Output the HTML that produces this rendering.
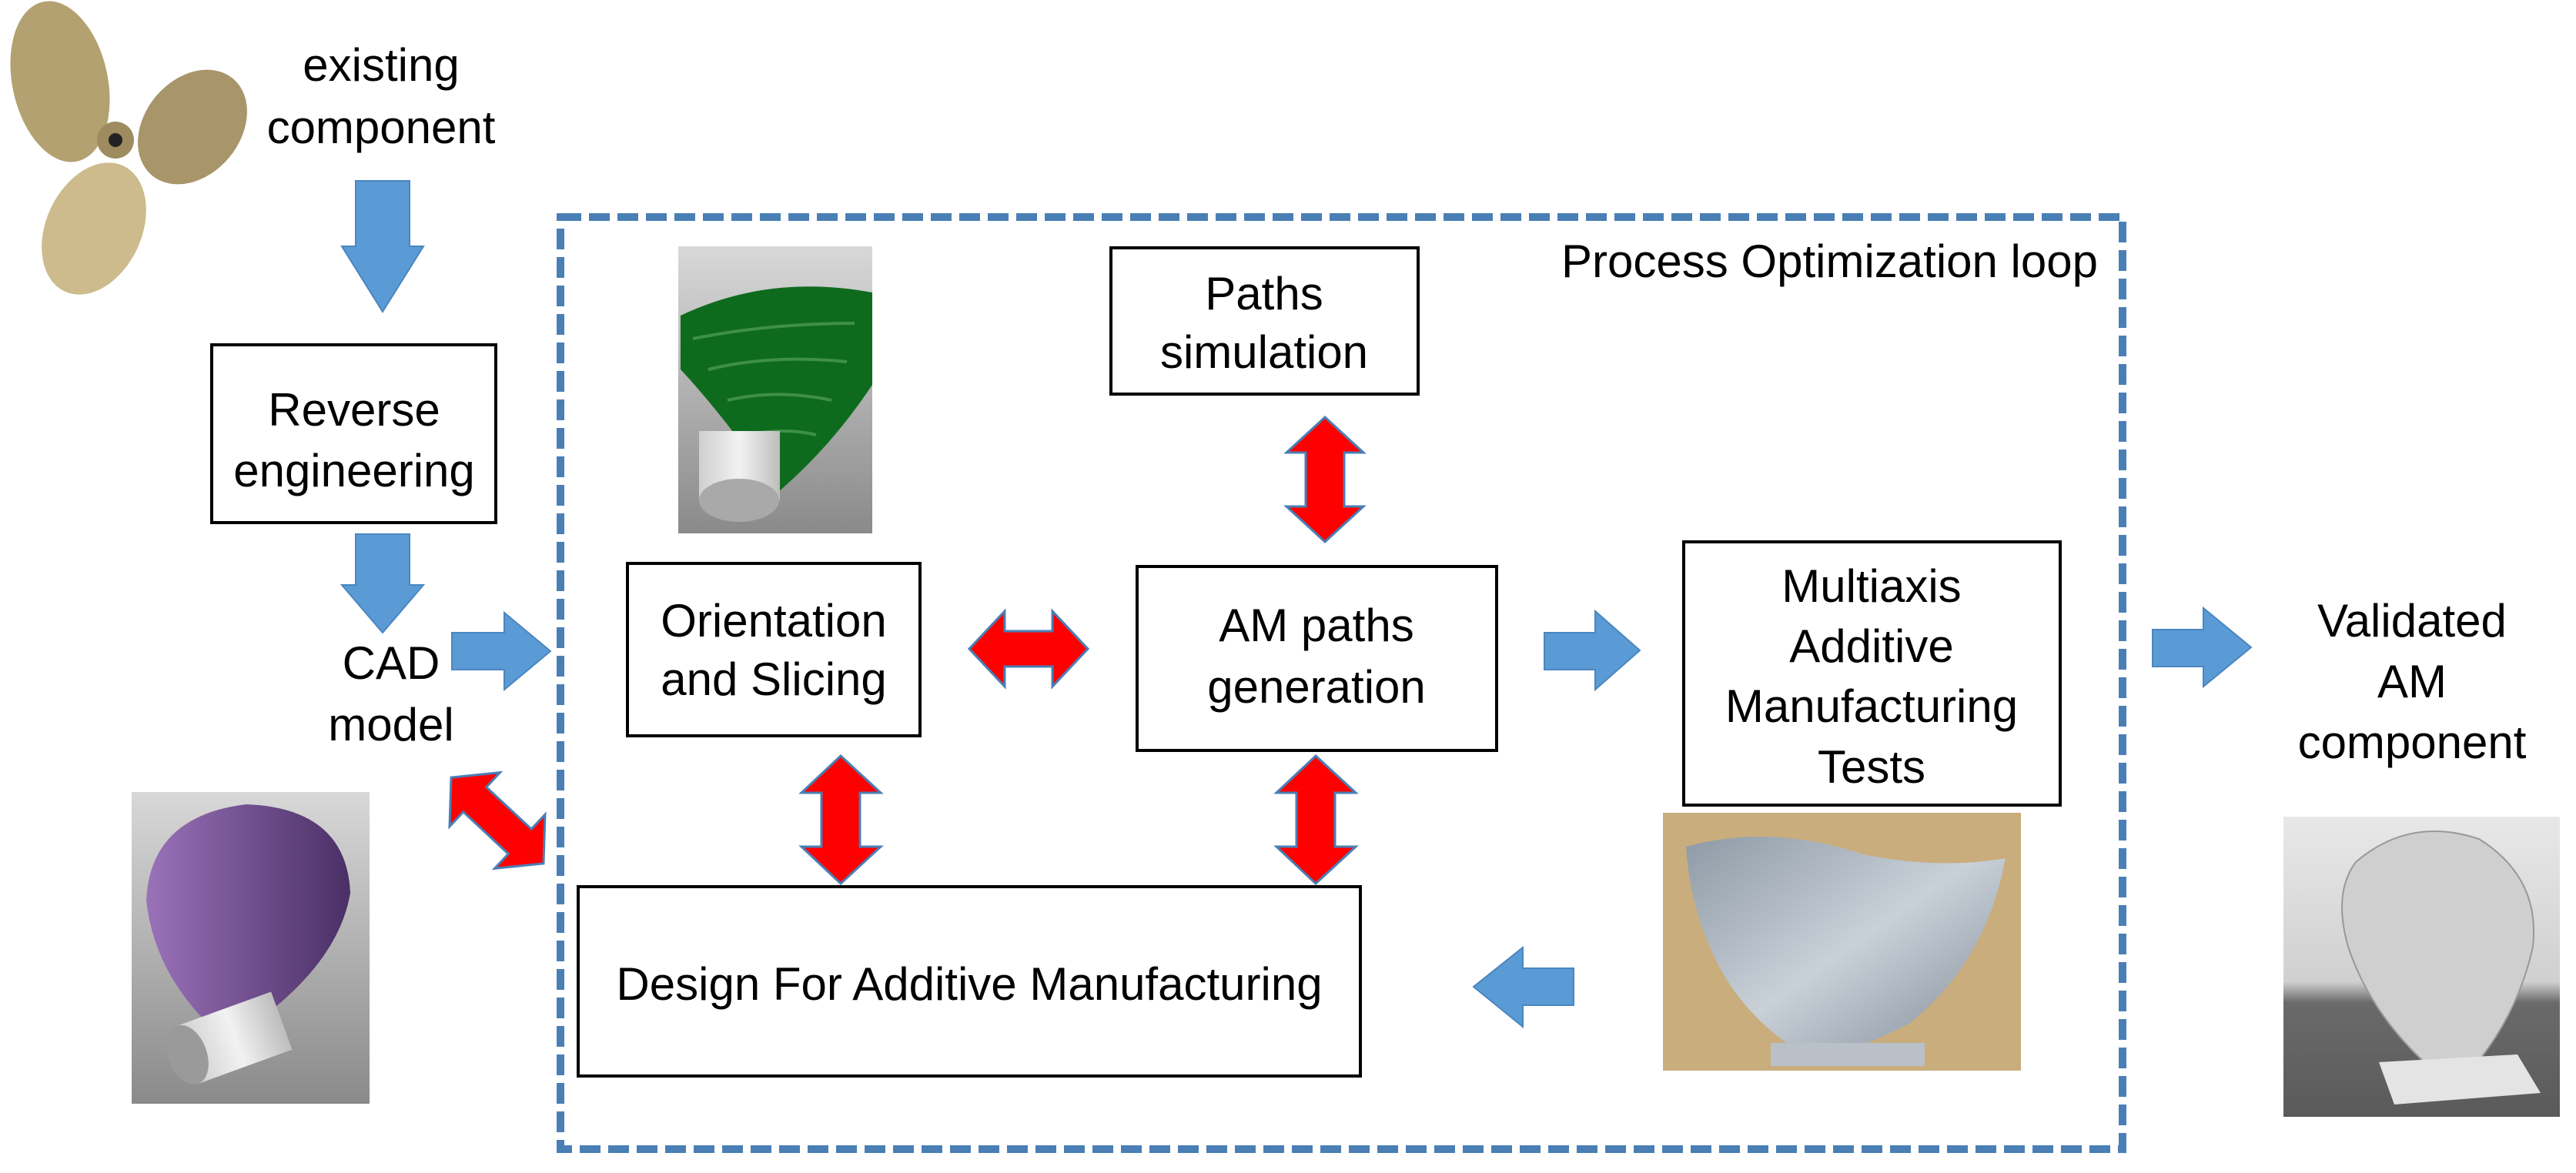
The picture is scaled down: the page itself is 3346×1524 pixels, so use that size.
<!DOCTYPE html>
<html><head><meta charset="utf-8">
<style>
html,body{margin:0;padding:0;background:#fff;}
svg{display:block;}
text{font-family:"Liberation Sans",Arial,sans-serif;font-size:60px;fill:#000;text-anchor:middle;}
</style></head>
<body>
<svg width="3346" height="1524" viewBox="0 0 3346 1524" xmlns="http://www.w3.org/2000/svg">
<defs>
<linearGradient id="gbg" x1="0" y1="0" x2="0" y2="1"><stop offset="0" stop-color="#d8d8d8"/><stop offset="1" stop-color="#8a8a8a"/></linearGradient>
<linearGradient id="pur" x1="0" y1="0" x2="1" y2="0"><stop offset="0" stop-color="#9a72b8"/><stop offset="1" stop-color="#4a2f66"/></linearGradient>
<linearGradient id="cyl" x1="0" y1="0" x2="1" y2="0"><stop offset="0" stop-color="#cfcfcf"/><stop offset="0.5" stop-color="#f2f2f2"/><stop offset="1" stop-color="#bdbdbd"/></linearGradient>
<linearGradient id="alu" x1="0" y1="0" x2="1" y2="1"><stop offset="0" stop-color="#8e9aa6"/><stop offset="0.5" stop-color="#c9d0d8"/><stop offset="1" stop-color="#7d8894"/></linearGradient>
<linearGradient id="gry" x1="0" y1="0" x2="0" y2="1"><stop offset="0" stop-color="#e8e8e8"/><stop offset="0.55" stop-color="#d0d0d0"/><stop offset="0.62" stop-color="#6a6a6a"/><stop offset="1" stop-color="#5a5a5a"/></linearGradient>
</defs>

<!-- propeller -->
<g>
<ellipse cx="78" cy="106" rx="62" ry="106" transform="rotate(-12 78 106)" fill="#b3a171"/>
<ellipse cx="250" cy="165" rx="62" ry="82" transform="rotate(40 250 165)" fill="#a8956a"/>
<ellipse cx="122" cy="297" rx="62" ry="90" transform="rotate(25 122 297)" fill="#cdbb8e"/>
<circle cx="150" cy="182" r="24" fill="#9e8c60"/>
<circle cx="150" cy="182" r="9" fill="#222"/>
</g>

<text x="495" y="105">existing</text>
<text x="495" y="186">component</text>

<!-- blue arrows -->
<g fill="#5b9bd5" stroke="#4a86c0" stroke-width="2">
<polygon points="462,235 532,235 532,320 550,320 497,405 444,320 462,320"/>
<polygon points="462,694 532,694 532,760 550,760 497,822 444,760 462,760"/>
<polygon points="587,822 655,822 655,796 715,846 655,896 655,870 587,870"/>
<polygon points="2006,822 2072,822 2072,794 2130,845 2072,896 2072,870 2006,870"/>
<polygon points="2796,818 2862,818 2862,790 2924,841 2862,892 2862,866 2796,866"/>
<polygon points="2044,1258 1978,1258 1978,1231 1914,1282 1978,1334 1978,1306 2044,1306"/>
</g>

<!-- boxes -->
<g fill="#fff" stroke="#000" stroke-width="4">
<rect x="275" y="448" width="369" height="231"/>
<rect x="815" y="732" width="380" height="224"/>
<rect x="1443" y="322" width="399" height="190"/>
<rect x="1477" y="736" width="467" height="239"/>
<rect x="751" y="1152" width="1016" height="246"/>
<rect x="2187" y="704" width="489" height="342"/>
</g>

<text x="460" y="553">Reverse</text>
<text x="460" y="632">engineering</text>
<text x="508" y="882">CAD</text>
<text x="508" y="962">model</text>
<text x="1005" y="827">Orientation</text>
<text x="1005" y="903">and Slicing</text>
<text x="1642" y="402">Paths</text>
<text x="1642" y="478">simulation</text>
<text x="1710" y="833">AM paths</text>
<text x="1710" y="913">generation</text>
<text x="1259" y="1299">Design For Additive Manufacturing</text>
<text x="2431" y="782">Multiaxis</text>
<text x="2431" y="860">Additive</text>
<text x="2431" y="938">Manufacturing</text>
<text x="2431" y="1017">Tests</text>
<text x="3133" y="827">Validated</text>
<text x="3133" y="906">AM</text>
<text x="3133" y="985">component</text>
<text x="2725" y="360" style="text-anchor:end">Process Optimization loop</text>

<!-- dashed loop -->
<rect x="728" y="282" width="2029" height="1211" fill="none" stroke="#4a7fb5" stroke-width="10" stroke-dasharray="27 10"/>

<!-- red double arrows -->
<g fill="#ff0000" stroke="#4a7fb5" stroke-width="3">
<polygon points="1259,843 1305,794 1305,820 1367,820 1367,794 1413,843 1367,892 1367,866 1305,866 1305,892"/>
<polygon points="1721,542 1771,588 1746,588 1746,658 1771,658 1721,704 1671,658 1696,658 1696,588 1671,588"/>
<polygon points="1092,982 1144,1030 1117,1030 1117,1100 1144,1100 1092,1148 1041,1100 1067,1100 1067,1030 1041,1030"/>
<polygon points="1709,982 1761,1030 1734,1030 1734,1100 1761,1100 1709,1148 1658,1100 1684,1100 1684,1030 1658,1030"/>
<g transform="translate(646,1066) rotate(43)">
<polygon points="-82,0 -40,-48 -40,-22 40,-22 40,-48 82,0 40,48 40,22 -40,22 -40,48"/>
</g>
</g>

<!-- green slicing image -->
<rect x="881" y="320" width="252" height="373" fill="url(#gbg)"/>
<path d="M884,410 Q1000,355 1133,380 L1133,500 Q1080,580 1010,640 Q940,540 884,480 Z" fill="#0e6b1e"/>
<g stroke="#3f8f4a" stroke-width="4" fill="none"><path d="M900,440 Q1000,420 1110,420"/><path d="M920,480 Q1000,460 1100,470"/><path d="M945,520 Q1010,505 1080,520"/><path d="M970,565 Q1020,555 1060,565"/></g>
<rect x="908" y="560" width="105" height="90" fill="url(#cyl)"/>
<ellipse cx="960" cy="650" rx="52" ry="28" fill="#a9a9a9"/>

<!-- purple image -->
<rect x="171" y="1029" width="309" height="405" fill="url(#gbg)"/>
<path d="M320,1045 Q450,1050 455,1160 Q440,1250 330,1330 Q290,1345 270,1330 Q200,1260 190,1170 Q195,1060 320,1045 Z" fill="url(#pur)"/>
<g transform="rotate(-20 300 1350)">
<rect x="240" y="1310" width="130" height="80" fill="url(#cyl)"/>
<ellipse cx="240" cy="1350" rx="25" ry="40" fill="#9a9a9a"/>
</g>

<!-- aluminum test photo -->
<rect x="2160" y="1056" width="465" height="335" fill="#c9ad7c"/>
<path d="M2190,1100 Q2300,1070 2420,1110 Q2520,1130 2605,1115 Q2580,1250 2480,1330 Q2420,1360 2360,1380 Q2270,1330 2230,1250 Q2195,1180 2190,1100 Z" fill="url(#alu)"/>
<rect x="2300" y="1355" width="200" height="30" fill="#b9c0c8"/>

<!-- validated photo -->
<rect x="2966" y="1061" width="359" height="390" fill="url(#gry)"/>
<path d="M3060,1120 Q3130,1060 3220,1090 Q3300,1140 3290,1230 Q3270,1320 3210,1390 L3160,1390 Q3080,1320 3050,1230 Q3030,1160 3060,1120 Z" fill="#cfcfcf" stroke="#999" stroke-width="2"/>
<polygon points="3090,1380 3270,1370 3300,1420 3110,1435" fill="#e4e4e4"/>
</svg>
</body></html>
